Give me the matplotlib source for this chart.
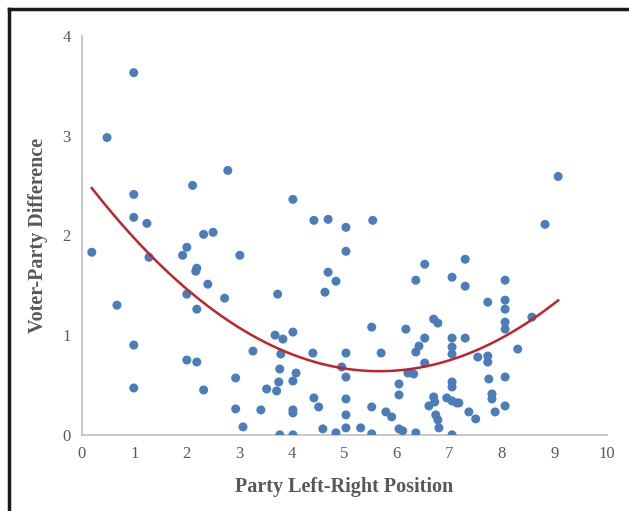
import numpy as np
import matplotlib
matplotlib.use("Agg")
import matplotlib.pyplot as plt
from matplotlib.lines import Line2D

# party position (x) and voter-party difference (y)
party_pos = [0.19, 0.48, 0.99, 0.99, 0.99, 1.24, 1.28, 0.67, 0.99, 0.99,
             2.11, 2.78, 1.92, 2.00, 2.32, 2.50, 2.19, 2.17, 2.40, 2.00,
             2.19, 2.72, 3.01, 2.00, 2.19, 2.32, 2.93, 2.93, 3.07, 3.26,
             3.41, 3.52,
             4.02, 4.42, 4.69, 5.03, 5.54, 5.03, 6.53, 4.69, 4.84, 6.36,
             7.05, 3.73, 4.63, 6.70, 6.78, 5.52, 6.17, 3.68, 3.83, 4.02,
             6.53, 7.05, 6.42, 6.36, 7.05, 7.05, 4.40, 5.03, 5.70, 3.79,
             6.53, 4.95, 5.03, 3.77, 4.08, 4.02, 3.75, 3.71, 6.21, 6.32,
             6.04, 6.04, 7.05, 7.05, 6.70, 6.61, 6.72, 6.95, 7.05, 7.14,
             4.42, 4.51, 5.03, 5.03, 5.52, 5.79, 5.90, 4.02, 4.02, 6.74,
             6.78, 6.80, 3.77, 4.02, 4.59, 4.84, 5.03, 5.31, 5.52, 6.04,
             6.11, 6.36, 7.05,
             7.30, 7.30, 8.06, 7.73, 8.06, 8.06, 8.06, 8.06, 8.57, 8.30,
             7.30, 7.54, 7.73, 7.73, 7.75, 8.06, 7.81, 7.81, 7.87, 8.06,
             7.37, 7.50, 7.18, 8.82, 9.07]
voter_diff = [1.83, 2.98, 3.63, 2.41, 2.18, 2.12, 1.78, 1.30, 0.90, 0.47,
              2.50, 2.65, 1.80, 1.88, 2.01, 2.03, 1.67, 1.64, 1.51, 1.41,
              1.26, 1.37, 1.80, 0.75, 0.73, 0.45, 0.57, 0.26, 0.08, 0.84,
              0.25, 0.46,
              2.36, 2.15, 2.16, 2.08, 2.15, 1.84, 1.71, 1.63, 1.54, 1.55,
              1.58, 1.41, 1.43, 1.16, 1.12, 1.08, 1.06, 1.00, 0.96, 1.03,
              0.97, 0.97, 0.89, 0.83, 0.88, 0.81, 0.82, 0.82, 0.82, 0.81,
              0.72, 0.68, 0.58, 0.66, 0.62, 0.54, 0.53, 0.44, 0.62, 0.61,
              0.51, 0.40, 0.53, 0.48, 0.38, 0.29, 0.33, 0.37, 0.34, 0.32,
              0.37, 0.28, 0.36, 0.20, 0.28, 0.23, 0.18, 0.25, 0.22, 0.20,
              0.15, 0.07, 0.00, 0.00, 0.06, 0.02, 0.07, 0.07, 0.01, 0.06,
              0.04, 0.02, 0.00,
              1.76, 1.49, 1.55, 1.33, 1.35, 1.26, 1.13, 1.06, 1.18, 0.86,
              0.97, 0.78, 0.79, 0.73, 0.56, 0.58, 0.41, 0.36, 0.23, 0.29,
              0.23, 0.16, 0.32, 2.11, 2.59]

x_ticks = list(range(0, 11))
y_ticks = [0, 1, 2, 3, 4]

plt.rcParams['font.family'] = ['Liberation Serif', 'DejaVu Serif']

fig = plt.figure(figsize=(6.29, 5.11), dpi=100)
ax = fig.add_axes([0.130, 0.149, 0.835, 0.781])

ax.scatter(party_pos, voter_diff, s=42, color='#4a7ebb', edgecolors='none', zorder=3)

# second-order polynomial trendline
coef = np.polyfit(party_pos, voter_diff, 2)
xs = np.linspace(min(party_pos), max(party_pos), 200)
ax.plot(xs, np.polyval(coef, xs), color='#c0242a', lw=1.8, zorder=4)

ax.set_xlim(0, 10)
ax.set_ylim(0, 4)
ax.set_xticks(x_ticks)
ax.set_yticks(y_ticks)
ax.tick_params(length=0, labelsize=12, labelcolor='#595959', pad=8)

for side in ['top', 'right']:
    ax.spines[side].set_visible(False)
for side in ['left', 'bottom']:
    ax.spines[side].set_color('#bfbfbf')
    ax.spines[side].set_linewidth(1.2)

ax.set_xlabel('Party Left-Right Position', fontsize=14.5, fontweight='bold',
              color='#595959', labelpad=11)
ax.set_ylabel('Voter-Party Difference', fontsize=14.5, fontweight='bold',
              color='#595959', labelpad=10)

# frame lines at top and left of the figure
fig.add_artist(Line2D([9 / 629, 1], [1 - 9 / 511, 1 - 9 / 511], color='#1a1a1a', lw=2.5))
fig.add_artist(Line2D([9 / 629, 9 / 629], [0, 1 - 9 / 511], color='#1a1a1a', lw=2.5))

fig.savefig('out.png', dpi=100)
